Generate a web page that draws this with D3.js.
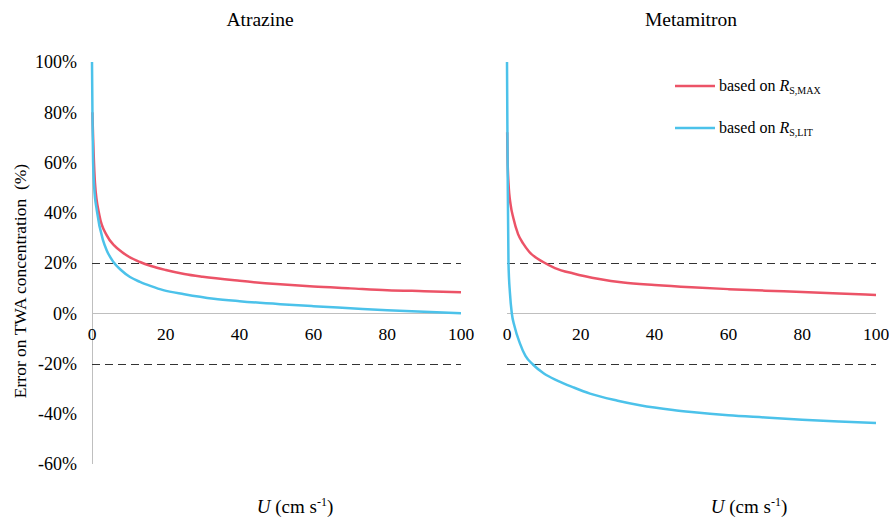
<!DOCTYPE html>
<html>
<head>
<meta charset="utf-8">
<script src="https://cdn.jsdelivr.net/npm/d3@7"></script>
<style>
  body { margin: 0; background: #fff; }
</style>
</head>
<body>
<svg width="889" height="522"></svg>
<script>
// U in cm/s, error in %
const atrazineMaxU   = [0.1, 0.3, 0.8, 2, 4, 6, 8, 10, 13, 16, 20, 25, 30, 40, 50, 60, 70, 80, 90, 100];
const atrazineMaxErr = [80, 70, 52, 39, 31, 27, 24.5, 22.5, 20.4, 18.8, 17.2, 15.6, 14.5, 12.9, 11.6, 10.6, 9.9, 9.2, 8.8, 8.4];
const atrazineLitU   = [0, 0.15, 0.3, 0.6, 1.3, 3, 4, 5.8, 8, 10.3, 13, 16, 19.3, 25, 33, 40, 51, 60, 70, 80, 90, 100];
const atrazineLitErr = [100, 75, 60, 50, 41, 29, 25, 20.4, 17, 14.4, 12.5, 10.8, 9.2, 7.6, 5.8, 4.8, 3.6, 2.8, 2.0, 1.2, 0.6, 0];

const metamitronMaxU   = [0.05, 0.15, 0.4, 1, 1.7, 3, 4.4, 6, 9.8, 13, 18, 25, 31.5, 40, 50, 60, 70, 80, 90, 100];
const metamitronMaxErr = [72, 62, 52, 43, 38, 31.5, 27.7, 24.5, 20.4, 18, 15.8, 13.6, 12.2, 11.2, 10.3, 9.6, 9.0, 8.5, 7.9, 7.3];
const metamitronLitU   = [0, 0.1, 0.2, 0.4, 0.8, 1.3, 2, 3.5, 5, 7.1, 10, 13.5, 18, 22.5, 30, 36, 45, 50, 60, 70, 80, 90, 100];
const metamitronLitErr = [100, 75, 52, 20, 8, 0, -5, -12, -17, -20.5, -24, -26.7, -29.5, -32, -34.8, -36.6, -38.5, -39.3, -40.6, -41.5, -42.4, -43.1, -43.7];

const yTicks = [100, 80, 60, 40, 20, 0, -20, -40, -60];
const xTicks = [0, 20, 40, 60, 80, 100];
const thresholds = [20, -20];

const panels = [
  { title: "Atrazine",   x0: 92,  titleX: 260, labelX: 295, axisLine: true,
    series: [{ u: atrazineMaxU, e: atrazineMaxErr, key: "max" }, { u: atrazineLitU, e: atrazineLitErr, key: "lit" }] },
  { title: "Metamitron", x0: 507, titleX: 691, labelX: 749, axisLine: false,
    series: [{ u: metamitronMaxU, e: metamitronMaxErr, key: "max" }, { u: metamitronLitU, e: metamitronLitErr, key: "lit" }] }
];

const colors = { max: "#ec5367", lit: "#4cc2ea" };
const plotW = 369;
const serif = "'Liberation Serif', 'Times New Roman', Times, 'DejaVu Serif', serif";

const svg = d3.select("svg")
  .attr("font-family", serif)
  .style("font-family", serif);

const y = d3.scaleLinear().domain([-60, 100]).range([464, 62]);
const crisp = v => Math.round(v) + 0.5;

// y tick labels (only on the left)
svg.append("g").selectAll("text")
  .data(yTicks)
  .enter().append("text")
  .attr("x", 77)
  .attr("y", d => y(d))
  .attr("dy", "0.35em")
  .attr("text-anchor", "end")
  .style("font-size", "18px")
  .text(d => d + "%");

// y axis title
svg.append("text")
  .attr("transform", "translate(26,281) rotate(-90)")
  .attr("text-anchor", "middle")
  .style("font-size", "17.5px")
  .style("white-space", "pre")
  .text("Error on TWA concentration  (%)");

panels.forEach(p => {
  const x = d3.scaleLinear().domain([0, 100]).range([p.x0, p.x0 + plotW]);
  const g = svg.append("g");

  if (p.axisLine) {
    g.append("line")
      .attr("x1", crisp(x(0))).attr("x2", crisp(x(0)))
      .attr("y1", y(100)).attr("y2", y(-60))
      .attr("stroke", "#bfbfbf").attr("stroke-width", 1);
  }

  g.append("line")
    .attr("x1", x(0)).attr("x2", x(100))
    .attr("y1", crisp(y(0))).attr("y2", crisp(y(0)))
    .attr("stroke", "#bfbfbf").attr("stroke-width", 1);

  g.selectAll(".thr")
    .data(thresholds)
    .enter().append("line")
    .attr("class", "thr")
    .attr("x1", x(0)).attr("x2", x(100))
    .attr("y1", d => crisp(y(d))).attr("y2", d => crisp(y(d)))
    .attr("stroke", "#333").attr("stroke-width", 1)
    .attr("stroke-dasharray", "8,5");

  g.selectAll(".xt")
    .data(xTicks)
    .enter().append("text")
    .attr("class", "xt")
    .attr("x", d => x(d))
    .attr("y", 340)
    .attr("text-anchor", "middle")
    .style("font-size", "17.5px")
    .text(d => d);

  const line = d3.line()
    .x(d => x(d[0]))
    .y(d => y(d[1]))
    .curve(d3.curveMonotoneX);

  p.series.forEach(s => {
    g.append("path")
      .datum(s.u.map((u, i) => [u, s.e[i]]))
      .attr("fill", "none")
      .attr("stroke", colors[s.key])
      .attr("stroke-width", 2.5)
      .attr("d", line);
  });

  g.append("text")
    .attr("x", p.titleX)
    .attr("y", 25.5)
    .attr("text-anchor", "middle")
    .style("font-size", "19.5px")
    .text(p.title);

  const xl = g.append("text")
    .attr("x", p.labelX)
    .attr("y", 513)
    .attr("text-anchor", "middle")
    .style("font-size", "19px");
  xl.append("tspan").style("font-style", "italic").text("U");
  xl.append("tspan").text(" (cm s");
  xl.append("tspan").attr("dy", -7).style("font-size", "12px").text("-1");
  xl.append("tspan").attr("dy", 7).text(")");
});

// legend
const legend = [
  { key: "max", sub: "S,MAX", y: 86 },
  { key: "lit", sub: "S,LIT", y: 128 }
];
const lg = svg.append("g");
legend.forEach(l => {
  lg.append("line")
    .attr("x1", 675).attr("x2", 715)
    .attr("y1", l.y).attr("y2", l.y)
    .attr("stroke", colors[l.key]).attr("stroke-width", 2.5);
  const t = lg.append("text")
    .attr("x", 719).attr("y", l.y + 5)
    .style("font-size", "16px");
  t.append("tspan").text("based on ");
  t.append("tspan").style("font-style", "italic").text("R");
  t.append("tspan").attr("dy", 3).style("font-size", "10px").text(l.sub);
});
</script>
</body>
</html>
